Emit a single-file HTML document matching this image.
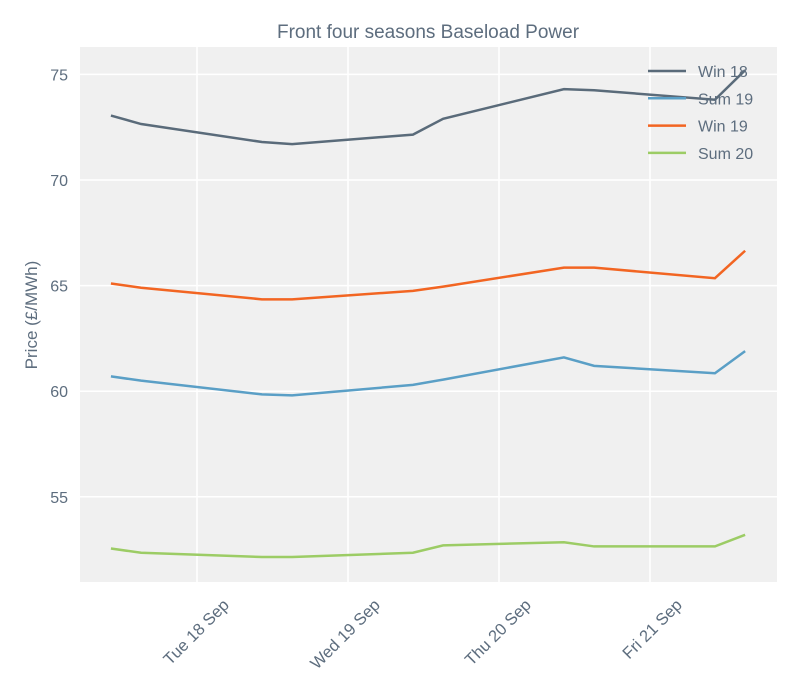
<!DOCTYPE html>
<html><head><meta charset="utf-8"><style>
body{margin:0;background:#fff;}
svg{display:block;font-family:"Liberation Sans",sans-serif;}
</style></head><body>
<svg id="chart" width="800" height="700">
<rect x="80" y="47" width="697" height="535" fill="#f0f0f0"/>
<g id="grid"></g><g id="series"></g><g id="axes"></g>
<text x="428" y="38" text-anchor="middle" font-size="19" fill="#5d6d7e">Front four seasons Baseload Power</text>
<text transform="translate(37,315) rotate(-90)" text-anchor="middle" font-size="17" fill="#5d6d7e">Price (£/MWh)</text>
<g id="legend"></g>
</svg>
<script>
const times=[17.43,17.63,18.43,18.63,19.43,19.63,20.43,20.63,21.43,21.63];
const seriesNames=["Win 18","Sum 19","Win 19","Sum 20"];
const win18=[73.05,72.65,71.8,71.7,72.15,72.9,74.3,74.25,73.8,75.2];
const sum19=[60.7,60.5,59.85,59.8,60.3,60.55,61.6,61.2,60.85,61.9];
const win19=[65.1,64.9,64.35,64.35,64.75,64.95,65.85,65.85,65.35,66.65];
const sum20=[52.55,52.35,52.15,52.15,52.35,52.7,52.85,52.65,52.65,53.2];
const yTicks=[55,60,65,70,75];
const xTicks=[18,19,20,21];
const xTickLabels=["Tue 18 Sep","Wed 19 Sep","Thu 20 Sep","Fri 21 Sep"];
const colors=["#5a6b7a","#5a9fc6","#f26522","#9ccc65"];
const NS="http://www.w3.org/2000/svg";
const xS=d=>197+(d-18)*151;
const yS=v=>180-(v-70)*21.12;
function mk(t,a,p){const e=document.createElementNS(NS,t);for(const k in a)e.setAttribute(k,a[k]);p.appendChild(e);return e;}
const grid=document.getElementById('grid'),axes=document.getElementById('axes');
yTicks.forEach(v=>{
 const l=mk('line',{x1:80,x2:777,y1:yS(v),y2:yS(v),stroke:'#fff','stroke-width':1.5},grid);
 
 
 const t=mk('text',{x:68,y:yS(v)+6,'text-anchor':'end','font-size':16,fill:'#5d6d7e'},axes);
 t.textContent=v;
 
 
});
xTicks.forEach((d,i)=>{
 const l=mk('line',{x1:xS(d),x2:xS(d),y1:47,y2:582,stroke:'#fff','stroke-width':1.5},grid);
 
 
 const t=mk('text',{transform:`translate(${xS(d)+33},${606}) rotate(-45)`,'text-anchor':'end','font-size':16.5,fill:'#5d6d7e'},axes);
 t.textContent=xTickLabels[i];
 
 
});
const data=[win18,sum19,win19,sum20];
const sg=document.getElementById('series'),lg=document.getElementById('legend');
data.forEach((s,i)=>{
 const p=mk('polyline',{points:s.map((v,j)=>xS(times[j])+','+yS(v)).join(' '),fill:'none',stroke:colors[i],'stroke-width':2.5},sg);
 
 
 const y=71+i*27.3;
 const l=mk('line',{x1:648,x2:686,y1:y,y2:y,stroke:colors[i],'stroke-width':2.5},lg);
 
 
 const t=mk('text',{x:698,y:y+6,'font-size':16,fill:'#5d6d7e'},lg);
 t.textContent=seriesNames[i];
 
 
});
</script>
</body></html>
